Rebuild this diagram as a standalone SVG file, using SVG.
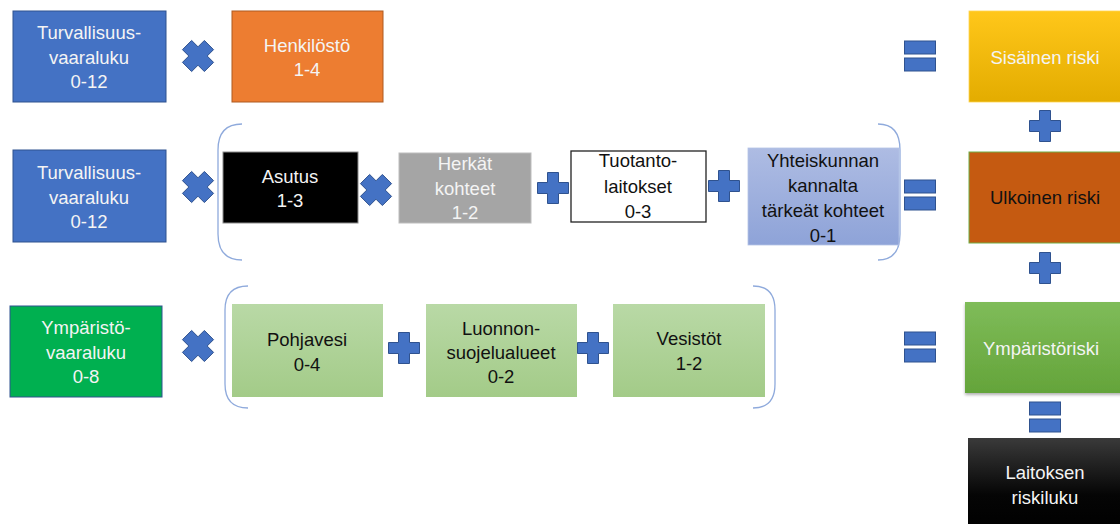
<svg xmlns="http://www.w3.org/2000/svg" width="1120" height="524" viewBox="0 0 1120 524">
<style>
text{font-family:"Liberation Sans",Arial,sans-serif;font-size:18.5px;text-anchor:middle;dominant-baseline:central}
.w{fill:#F4F4F4}
.k{fill:#111}
.op{fill:#4472C4;stroke:#2F528F;stroke-width:1}
.br{fill:none;stroke:#8FAADC;stroke-width:1.3}
</style>
<defs>
<linearGradient id="gy" x1="0" y1="0" x2="0" y2="1"><stop offset="0" stop-color="#FFC71A"/><stop offset="1" stop-color="#E3AC00"/></linearGradient>
<linearGradient id="gg" x1="0" y1="0" x2="0" y2="1"><stop offset="0" stop-color="#7FBC59"/><stop offset="1" stop-color="#64A43A"/></linearGradient>
<linearGradient id="gl" x1="0" y1="0" x2="0" y2="1"><stop offset="0" stop-color="#B9D9A6"/><stop offset="1" stop-color="#A3CB88"/></linearGradient>
<linearGradient id="gb" x1="0" y1="0" x2="0" y2="1"><stop offset="0" stop-color="#AEBCE3"/><stop offset="1" stop-color="#8EA3D8"/></linearGradient>
<linearGradient id="gk" x1="0" y1="0" x2="0" y2="1"><stop offset="0" stop-color="#3A3A3A"/><stop offset="0.6" stop-color="#050505"/><stop offset="1" stop-color="#000"/></linearGradient>
<filter id="sh" x="-10%" y="-10%" width="120%" height="130%"><feDropShadow dx="0" dy="2" stdDeviation="1.5" flood-color="#000" flood-opacity="0.3"/></filter>
<polygon id="mul" class="op" points="6.36,-15.56 15.56,-6.36 9.19,0 15.56,6.36 6.36,15.56 0,9.19 -6.36,15.56 -15.56,6.36 -9.19,0 -15.56,-6.36 -6.36,-15.56 0,-9.19"/>
<polygon id="plus" class="op" points="-5.5,-15.5 5.5,-15.5 5.5,-5.5 15.5,-5.5 15.5,5.5 5.5,5.5 5.5,15.5 -5.5,15.5 -5.5,5.5 -15.5,5.5 -15.5,-5.5 -5.5,-5.5"/>
<g id="eq"><rect class="op" x="-15.5" y="-15" width="31" height="13"/><rect class="op" x="-15.5" y="2" width="31" height="13"/></g>
</defs>
<rect width="1120" height="524" fill="#fff"/>

<g id="connectors">
<path class="br" d="M242,124 Q218,124 218,150 L218,234 Q218,260 242,260"/>
<path class="br" d="M878,124 Q900,124 900,150 L900,234 Q900,260 878,260"/>
<path class="br" d="M248,286 Q225,286 225,310 L225,384 Q225,408 248,408"/>
<path class="br" d="M753,286 Q775,286 775,310 L775,384 Q775,408 753,408"/>
<use href="#mul" x="198" y="56"/>
<use href="#mul" x="198" y="187"/>
<use href="#mul" x="376" y="190"/>
<use href="#mul" x="198" y="346"/>
<use href="#plus" x="553" y="188"/>
<use href="#plus" x="724" y="186"/>
<use href="#plus" x="404" y="348"/>
<use href="#plus" x="593" y="348"/>
<use href="#plus" x="1045" y="126"/>
<use href="#plus" x="1045" y="268"/>
<use href="#eq" x="920" y="56"/>
<use href="#eq" x="920" y="195"/>
<use href="#eq" x="920" y="347"/>
<use href="#eq" x="1045" y="417"/>
</g>

<g id="turv1"><rect x="13" y="11" width="153" height="91" fill="#4472C4" stroke="#2F528F"/>
<text class="w" x="89" y="32">Turvallisuus-</text><text class="w" x="89" y="57">vaaraluku</text><text class="w" x="89" y="81">0-12</text></g>
<g id="henkilosto"><rect x="232" y="11" width="151" height="91" fill="#ED7D31" stroke="#AE5A21"/>
<text class="w" x="307" y="45">Henkilöstö</text><text class="w" x="307" y="69">1-4</text></g>
<g id="sisainen"><rect x="969" y="11" width="160" height="91" fill="url(#gy)" stroke="#FFD54F" stroke-width="0.8"/>
<text class="w" x="1045" y="57">Sisäinen riski</text></g>

<g id="turv2"><rect x="13" y="150" width="153" height="92" fill="#4472C4" stroke="#2F528F"/>
<text class="w" x="89" y="172">Turvallisuus-</text><text class="w" x="89" y="197">vaaraluku</text><text class="w" x="89" y="221">0-12</text></g>
<g id="asutus"><rect x="223" y="152" width="135" height="71" fill="#000" stroke="#8C8C8C"/>
<text class="w" x="290" y="176">Asutus</text><text class="w" x="290" y="200">1-3</text></g>
<g id="herkat"><rect x="399" y="153" width="132" height="70" fill="#A5A5A5" stroke="#BDBDBD"/>
<text class="w" x="465" y="163">Herkät</text><text class="w" x="465" y="188">kohteet</text><text class="w" x="465" y="212">1-2</text></g>
<g id="tuotanto"><rect x="571" y="151" width="135" height="71" fill="#fff" stroke="#222" stroke-width="1.3"/>
<text class="k" x="638" y="160">Tuotanto-</text><text class="k" x="638" y="186">laitokset</text><text class="k" x="638" y="211">0-3</text></g>
<g id="yhteiskunnan"><rect x="748" y="148" width="151" height="97" fill="url(#gb)" stroke="#B4C3E6" stroke-width="0.8"/>
<text class="k" x="823" y="160">Yhteiskunnan</text><text class="k" x="823" y="185">kannalta</text><text class="k" x="823" y="210">tärkeät kohteet</text><text class="k" x="823" y="235">0-1</text></g>
<g id="ulkoinen"><rect x="969" y="152" width="160" height="91" fill="#C55A11" stroke="#70AD47" stroke-width="1"/>
<text class="k" x="1045" y="197">Ulkoinen riski</text></g>

<g id="ymparisto"><rect x="10" y="306" width="152" height="91" fill="#00B050" stroke="#2F528F"/>
<text class="w" x="86" y="327">Ympäristö-</text><text class="w" x="86" y="352">vaaraluku</text><text class="w" x="86" y="376">0-8</text></g>
<g id="pohjavesi"><rect x="232" y="304" width="151" height="93" fill="url(#gl)"/>
<text class="k" x="307" y="339">Pohjavesi</text><text class="k" x="307" y="364">0-4</text></g>
<g id="luonnon"><rect x="426" y="304" width="151" height="93" fill="url(#gl)"/>
<text class="k" x="501" y="328">Luonnon-</text><text class="k" x="501" y="352">suojelualueet</text><text class="k" x="501" y="376">0-2</text></g>
<g id="vesistot"><rect x="613" y="304" width="152" height="93" fill="url(#gl)"/>
<text class="k" x="689" y="338">Vesistöt</text><text class="k" x="689" y="363">1-2</text></g>
<g id="ymparistoriski"><rect x="965" y="302" width="160" height="91" fill="url(#gg)" filter="url(#sh)"/>
<text class="w" x="1041" y="348">Ympäristöriski</text></g>
<g id="laitoksen"><rect x="968" y="438" width="160" height="95" fill="url(#gk)"/>
<text class="w" x="1045" y="472">Laitoksen</text><text class="w" x="1045" y="497">riskiluku</text></g>
</svg>
